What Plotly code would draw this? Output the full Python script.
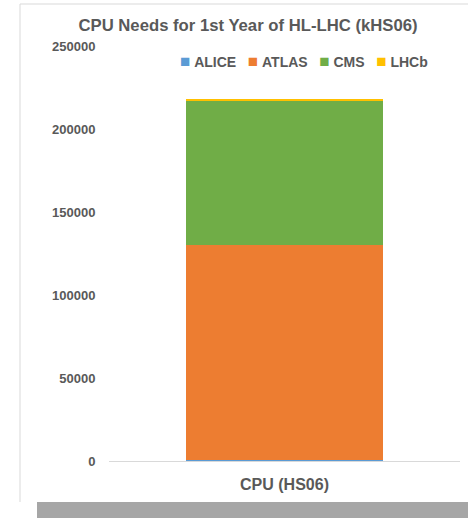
import plotly.graph_objects as go

categories = ["CPU (HS06)"]
experiments = ["ALICE", "ATLAS", "CMS", "LHCb"]
values = {
    "ALICE": [900],
    "ATLAS": [129000],
    "CMS": [87000],
    "LHCb": [1300],
}
colors = {"ALICE": "#5B9BD5", "ATLAS": "#ED7D31", "CMS": "#70AD47", "LHCb": "#FFC000"}
y_ticks = [0, 50000, 100000, 150000, 200000, 250000]

W, H = 468, 518
L, R, T, B = 109, 8, 46, 57
pw, ph = W - L - R, H - T - B

def px(x):
    return (x - L) / pw

def py(y):
    return (H - B - y) / ph

FONT = "Liberation Sans, Arial, sans-serif"
TXT = "#595959"

fig = go.Figure()
for e in experiments:
    fig.add_trace(go.Bar(x=categories, y=values[e], name=e, marker_color=colors[e],
                         marker_line_width=0, showlegend=False))

shapes = [
    dict(type="line", xref="paper", yref="paper", x0=px(20), x1=px(468), y0=py(4), y1=py(4),
         line=dict(color="#d9d9d9", width=1)),
    dict(type="line", xref="paper", yref="paper", x0=px(20), x1=px(20), y0=py(4), y1=py(502),
         line=dict(color="#d9d9d9", width=1)),
    dict(type="rect", xref="paper", yref="paper", x0=px(37), x1=px(470), y0=py(502), y1=py(520),
         fillcolor="#a6a6a6", line=dict(width=0)),
]

legend_text = "&nbsp;&nbsp;&nbsp;".join(
    f"<span style='color:{colors[e]};font-size:17px'>■</span> <b>{e}</b>" for e in experiments
)

fig.update_layout(
    width=W, height=H,
    margin=dict(l=L, r=R, t=T, b=B),
    paper_bgcolor="white", plot_bgcolor="white",
    barmode="stack", bargap=0.436,
    title=dict(text="<b>CPU Needs for 1st Year of HL-LHC (kHS06)</b>", x=248 / W, xanchor="center",
               y=1 - 25 / H, yanchor="middle",
               font=dict(family=FONT, size=16.7, color=TXT)),
    annotations=[dict(text=legend_text, xref="paper", yref="paper", x=px(304), y=py(61),
                      xanchor="center", yanchor="middle", showarrow=False,
                      font=dict(family=FONT, size=14, color=TXT))],
    font=dict(family=FONT, color=TXT),
    shapes=shapes,
)
fig.update_xaxes(showgrid=False, showline=False, zeroline=False,
                 ticks="outside", ticklen=9, tickcolor="rgba(0,0,0,0)",
                 tickfont=dict(family=FONT, size=16, color=TXT), tickprefix="<b>", ticksuffix="</b>")
fig.update_yaxes(range=[0, 250000], tickvals=y_ticks, ticktext=[f"<b>{v}</b>" for v in y_ticks],
                 showgrid=False, zeroline=True, zerolinecolor="#d9d9d9", zerolinewidth=1,
                 ticks="outside", ticklen=10, tickcolor="rgba(0,0,0,0)",
                 tickfont=dict(family=FONT, size=13, color=TXT))

fig.write_html("out.html")
